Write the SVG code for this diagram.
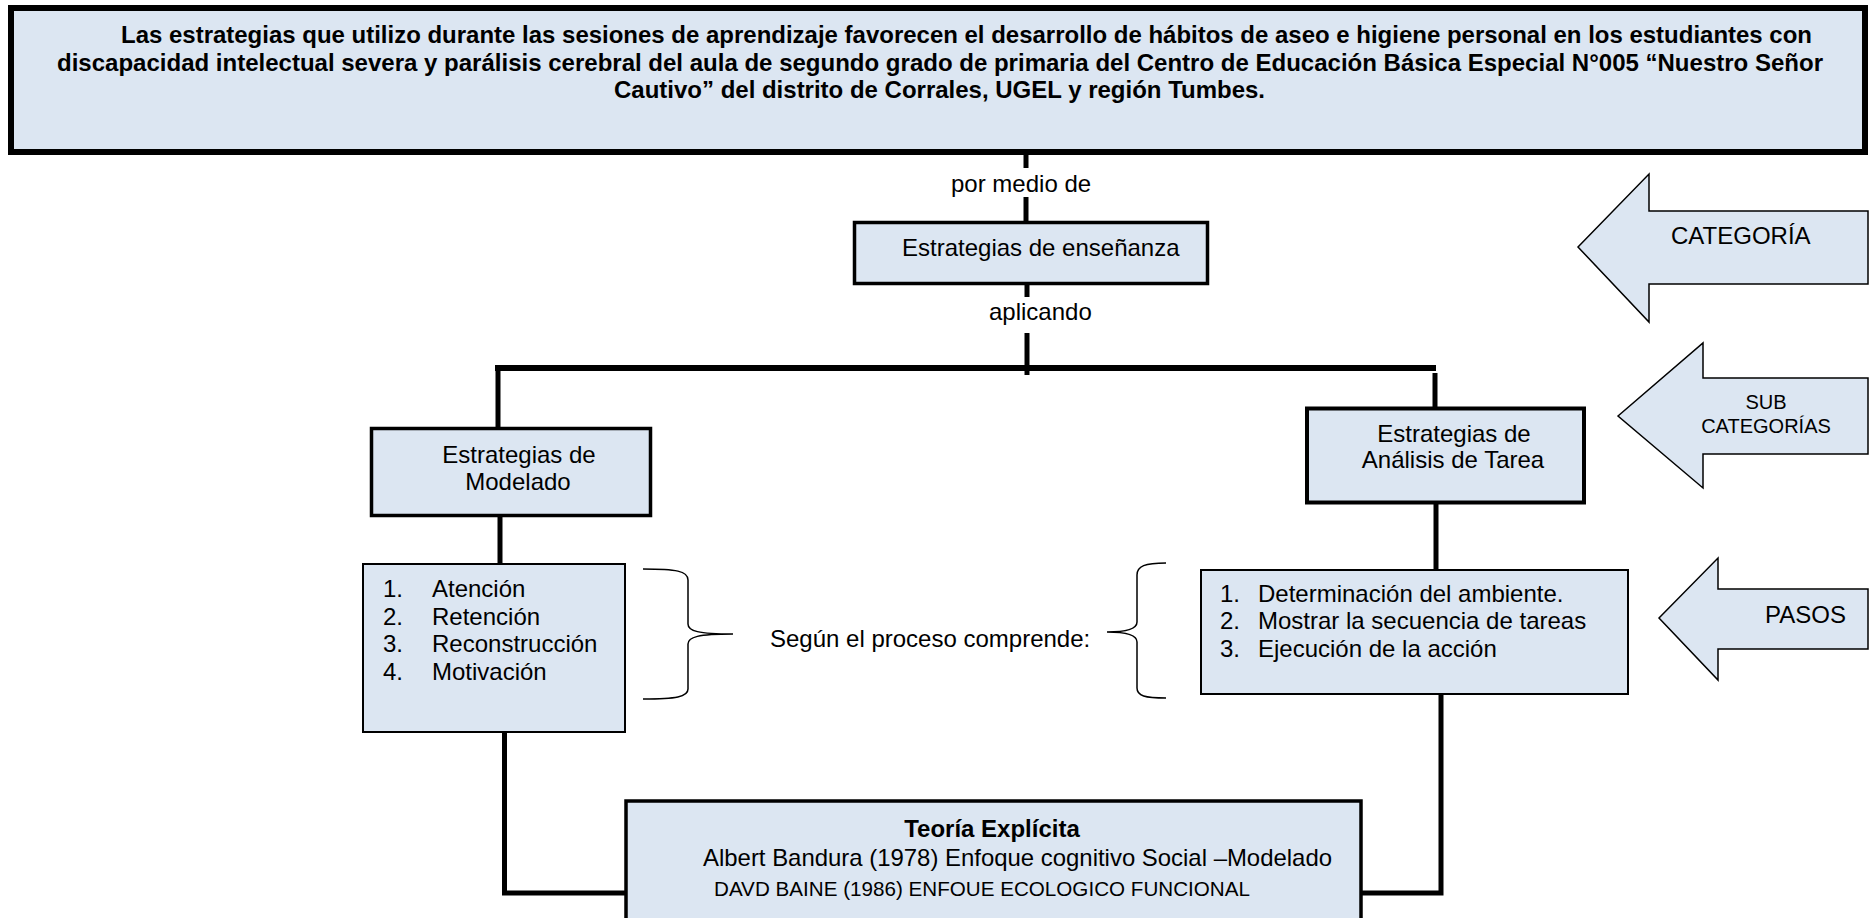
<svg xmlns="http://www.w3.org/2000/svg" width="1870" height="918" viewBox="0 0 1870 918">
<style>
.box{fill:#dce6f2;stroke:#000;}
.t{font-family:"Liberation Sans",Arial,sans-serif;font-size:24px;fill:#000;}
.b{font-weight:bold;}
.c{text-anchor:middle;}
.ln{stroke:#000;stroke-width:5;fill:none;}
.lh{stroke:#000;stroke-width:6;fill:none;}
.br{stroke:#000;stroke-width:1.5;fill:none;}
.arr{fill:#dce6f2;stroke:#000;stroke-width:1.5;stroke-linejoin:miter;}
</style>
<rect width="1870" height="918" fill="#fff"/>
<g id="connectors">
<line class="ln" x1="1026" y1="152" x2="1026" y2="168"/>
<line class="ln" x1="1026" y1="197" x2="1026" y2="222"/>
<line class="ln" x1="1027" y1="285" x2="1027" y2="297"/>
<line class="ln" x1="1027" y1="333" x2="1027" y2="375"/>
<line class="lh" x1="495" y1="368" x2="1436" y2="368"/>
<line class="ln" x1="498" y1="365" x2="498" y2="428"/>
<line class="ln" x1="1435" y1="373" x2="1435" y2="408"/>
<line class="ln" x1="500" y1="515" x2="500" y2="564"/>
<line class="ln" x1="1436" y1="503" x2="1436" y2="570"/>
<polyline class="ln" points="504.5,733 504.5,893 626,893" stroke-width="5.5"/>
<polyline class="ln" points="1441,694 1441,893 1361,893" stroke-width="5.5"/>
<path class="br" d="M643,569 C676,569 688,571 688,580 L688,624 C688,631 698,634 733,634 C698,634 688,637 688,644 L688,689 C688,697 676,699 643,699"/>
<path class="br" d="M1166,563 C1145,563 1137,566 1137,575 L1137,622 C1137,629 1127,632 1107,632 C1127,632 1137,635 1137,642 L1137,688 C1137,696 1145,698 1166,698"/>
</g>
<g id="title">
<rect class="box" x="11" y="8" width="1854" height="144" stroke-width="6"/>
<text class="t b" x="121" y="43" textLength="1691" lengthAdjust="spacingAndGlyphs">Las estrategias que utilizo durante las sesiones de aprendizaje favorecen el desarrollo de hábitos de aseo e higiene personal en los estudiantes con</text>
<text class="t b" x="57" y="71" textLength="1766" lengthAdjust="spacingAndGlyphs">discapacidad intelectual severa y parálisis cerebral del aula de segundo grado de primaria del Centro de Educación Básica Especial N°005 “Nuestro Señor</text>
<text class="t b" x="614" y="98" textLength="651" lengthAdjust="spacingAndGlyphs">Cautivo” del distrito de Corrales, UGEL y región Tumbes.</text>
</g>
<g id="label-por-medio">
<text class="t" x="951" y="192">por medio de</text>
</g>
<g id="ensenanza">
<rect class="box" x="854.5" y="222.5" width="353" height="61" stroke-width="3.5"/>
<text class="t" x="902" y="256">Estrategias de enseñanza</text>
</g>
<g id="label-aplicando">
<text class="t" x="989" y="320">aplicando</text>
</g>
<g id="modelado">
<rect class="box" x="371.5" y="428.5" width="279" height="87" stroke-width="3.5"/>
<text class="t c" x="519" y="463">Estrategias de</text>
<text class="t c" x="518" y="490">Modelado</text>
</g>
<g id="analisis">
<rect class="box" x="1307" y="408.5" width="277" height="94" stroke-width="4"/>
<text class="t c" x="1454" y="442">Estrategias de</text>
<text class="t c" x="1453" y="468">Análisis de Tarea</text>
</g>
<g id="pasos-modelado">
<rect class="box" x="363" y="564" width="262" height="168" stroke-width="2"/>
<text class="t" x="383" y="597">1.</text><text class="t" x="432" y="597">Atención</text>
<text class="t" x="383" y="624.5">2.</text><text class="t" x="432" y="624.5">Retención</text>
<text class="t" x="383" y="652">3.</text><text class="t" x="432" y="652">Reconstrucción</text>
<text class="t" x="383" y="679.5">4.</text><text class="t" x="432" y="679.5">Motivación</text>
</g>
<g id="pasos-analisis">
<rect class="box" x="1201" y="570" width="427" height="124" stroke-width="2"/>
<text class="t" x="1220" y="602">1.</text><text class="t" x="1258" y="602">Determinación del ambiente.</text>
<text class="t" x="1220" y="629">2.</text><text class="t" x="1258" y="629">Mostrar la secuencia de tareas</text>
<text class="t" x="1220" y="657">3.</text><text class="t" x="1258" y="657">Ejecución de la acción</text>
</g>
<g id="label-segun">
<text class="t" x="770" y="647">Según el proceso comprende:</text>
</g>
<g id="teoria">
<rect class="box" x="626" y="801" width="735" height="130" stroke-width="3.5"/>
<text class="t b c" x="992" y="837">Teoría Explícita</text>
<text class="t" x="703" y="866" textLength="629" lengthAdjust="spacingAndGlyphs">Albert Bandura (1978) Enfoque cognitivo Social –Modelado</text>
<text class="t" x="714" y="896" style="font-size:20.5px" textLength="536" lengthAdjust="spacingAndGlyphs">DAVD BAINE (1986) ENFOUE ECOLOGICO FUNCIONAL</text>
</g>
<g id="arrow-categoria">
<polygon class="arr" points="1578,247 1649,174 1649,211 1868,211 1868,284 1649,284 1649,322"/>
<text class="t" x="1671" y="244">CATEGORÍA</text>
</g>
<g id="arrow-subcategorias">
<polygon class="arr" points="1618,416 1703,343 1703,378 1868,378 1868,454 1703,454 1703,488"/>
<text class="t c" x="1766" y="409" style="font-size:20px">SUB</text>
<text class="t c" x="1766" y="433" style="font-size:20px">CATEGORÍAS</text>
</g>
<g id="arrow-pasos">
<polygon class="arr" points="1659,618 1718,558 1718,589 1868,589 1868,649 1718,649 1718,680"/>
<text class="t" x="1765" y="623">PASOS</text>
</g>
</svg>
